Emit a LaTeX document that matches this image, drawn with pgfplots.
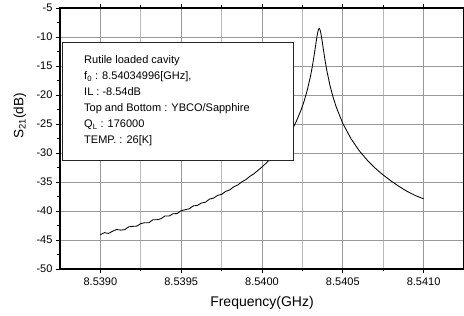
\documentclass[border=0pt]{standalone}
\usepackage{fontspec}
\setmainfont{Liberation Sans}
\usepackage{pgfplots}
\pgfplotsset{compat=1.18}
\usepackage{pgfplotstable}
% x = frequency offset from 8.5400 GHz, in MHz ; y = S21 in dB
\pgfplotstableread{
x y
-1.000 -44.09
-0.975 -43.73
-0.950 -43.87
-0.925 -43.50
-0.900 -43.18
-0.875 -43.30
-0.850 -43.22
-0.825 -42.73
-0.800 -42.65
-0.775 -42.61
-0.750 -42.17
-0.725 -42.02
-0.700 -42.02
-0.675 -41.51
-0.650 -41.50
-0.625 -41.33
-0.600 -40.85
-0.575 -40.87
-0.550 -40.48
-0.525 -40.44
-0.500 -39.94
-0.475 -39.78
-0.450 -39.62
-0.425 -39.12
-0.400 -39.04
-0.375 -38.62
-0.350 -38.49
-0.325 -37.95
-0.300 -37.78
-0.275 -37.31
-0.250 -37.14
-0.225 -36.62
-0.200 -36.37
-0.175 -35.83
-0.150 -35.52
-0.125 -34.97
-0.100 -34.60
-0.075 -34.03
-0.050 -33.58
-0.025 -33.00
0.000 -32.41
0.050 -31.09
0.100 -29.54
0.150 -27.66
0.180 -26.29
0.210 -24.68
0.240 -22.72
0.260 -21.12
0.280 -19.18
0.300 -16.77
0.310 -15.31
0.320 -13.64
0.330 -11.79
0.340 -9.94
0.345 -9.17
0.350 -8.67
0.354 -8.54
0.358 -8.67
0.363 -9.17
0.370 -10.29
0.380 -12.17
0.390 -13.99
0.400 -15.61
0.420 -18.29
0.440 -20.39
0.460 -22.11
0.500 -24.90
0.550 -27.50
0.600 -29.55
0.650 -31.20
0.700 -32.60
0.750 -33.80
0.800 -34.85
0.850 -35.80
0.900 -36.65
0.950 -37.35
1.000 -37.90
}\sparam
\begin{document}
\begin{tikzpicture}
\begin{axis}[
  scale only axis,
  width=404pt, height=261pt,
  xmin=-1.25, xmax=1.25,
  ymin=-50, ymax=-5,
  xtick={-1,-0.5,0,0.5,1},
  xticklabels={8.5390,8.5395,8.5400,8.5405,8.5410},
  ytick={-50,-45,-40,-35,-30,-25,-20,-15,-10,-5},
  minor x tick num=1,
  minor y tick num=1,
  tick align=outside,
  major tick length=4pt,
  minor tick length=2.5pt,
  tick style={black, line width=0.8pt},
  xmajorgrids, ymajorgrids, xminorgrids,
  major grid style={gray!80, line width=0.75pt},
  minor grid style={gray!55, line width=0.65pt},
  axis line style={line width=1.1pt},
  /pgf/number format/assume math mode=true,
  ticklabel style={font=\fontsize{11}{13}\selectfont},
  xticklabel style={yshift=-1.5pt},
  xlabel={Frequency(GHz)},
  ylabel={S\textsubscript{21}(dB)},
  every axis x label/.style={at={(axis description cs:0.5,0)}, anchor=center, yshift=-34pt, font=\fontsize{14}{16}\selectfont},
  every axis y label/.style={at={(axis description cs:-0.099,0.586)}, anchor=center, rotate=90, font=\fontsize{13.5}{16}\selectfont},
]
\addplot[black, line width=0.85pt] table[x=x, y=y] {\sparam};
\draw[black!85, line width=0.9pt, fill=white] (axis cs:-1.2376,-11.0) rectangle (axis cs:0.1918,-31.2);
\node[anchor=north west, align=left, inner sep=0pt, font=\fontsize{11}{16}\selectfont, xshift=22pt, yshift=-13pt] at (axis cs:-1.2376,-11.0)
 {Rutile loaded cavity\\
  f\textsubscript{0} : 8.54034996[GHz],\\
  IL : -8.54dB\\
  Top and Bottom : YBCO/Sapphire\\
  Q\textsubscript{L} : 176000\\
  TEMP. : 26[K]};
\end{axis}
\pgfresetboundingbox
\path ([xshift=-60pt,yshift=-47pt]current axis.south west) rectangle ([yshift=8pt]current axis.north east);
\end{tikzpicture}
\end{document}
